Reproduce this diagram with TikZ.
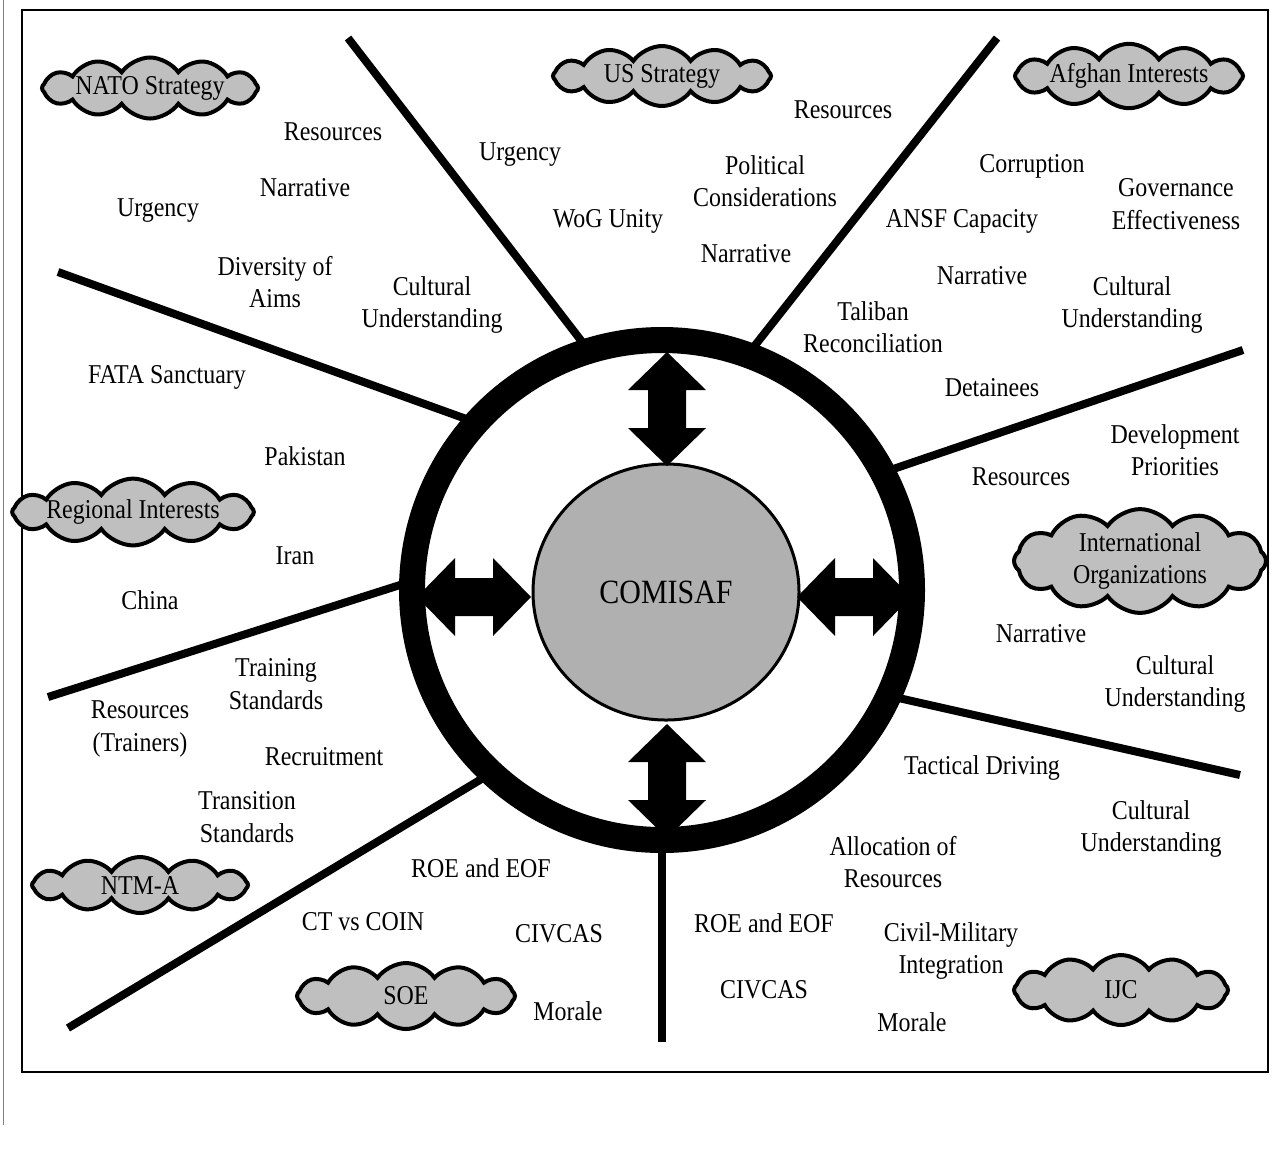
\documentclass[tikz,border=0pt]{standalone}
\usepackage{fontspec}
\setmainfont{Liberation Serif}[FakeStretch=0.88]
\usepackage{tikz}
\usetikzlibrary{shapes.geometric, shapes.symbols}

\tikzset{
  factor/.style={align=center, inner sep=0pt, font=\fontsize{13.6}{16.3}\selectfont},
  actor/.style={cloud, cloud puffs=12, cloud puff arc=110, cloud ignores aspect,
    draw=black, line width=2pt, fill=gray!50, inner sep=0pt, align=center,
    font=\fontsize{13.6}{16.3}\selectfont},
  spoke/.style={line width=4pt},
  dblarrow/.pic={\fill[black] (-57,0) -- (-19,39) -- (-19,19) -- (19,19) -- (19,39)
    -- (57,0) -- (19,-39) -- (19,-19) -- (-19,-19) -- (-19,-39) -- cycle;}
}

\begin{document}
\begin{tikzpicture}[x=0.5pt, y=-0.5pt]
    \useasboundingbox (0,0) rectangle (1273,1148);
    % Khung
    \draw[line width=1pt] (22,10) rectangle (1268,1072);
    \draw[gray, line width=0.5pt] (3,0) -- (3,1125);

    % Vong tron lon
    \node[circle, minimum size=250pt, inner sep=0pt] (ring) at (662,590) {};

    % Cac duong chia
    \coordinate (e1) at (348,38);
    \coordinate (e2) at (997,38);
    \coordinate (e3) at (58,272);
    \coordinate (e4) at (1243,350);
    \coordinate (e5) at (48,697);
    \coordinate (e6) at (1240,775);
    \coordinate (e7) at (68,1028);
    \coordinate (e8) at (662,1042);
    \foreach \a/\e in {107/e1, 70.5/e2, 138/e3, 28.3/e4, 178.9/e5, -25.9/e6, -133.8/e7, -90/e8}
        \draw[spoke] (ring.\a) -- (\e);

    \draw[line width=13pt] (ring.center) circle (125pt);

    % COMISAF
    \node[ellipse, draw, line width=1.5pt, fill=gray!62, minimum width=133pt, minimum height=128pt,
        font=\fontsize{17}{20}\selectfont] (comisaf) at (666,592) {COMISAF};

    % Mui ten hai chieu
    \pic[rotate=90] at (667,409) {dblarrow};
    \pic[rotate=90] at (667,781) {dblarrow};
    \pic at (474,597) {dblarrow};
    \pic at (854,597) {dblarrow};

    % Cac nhom
    \node[actor, minimum width=108pt, minimum height=26pt] (nato) at (150,88) {NATO Strategy};
    \node[actor, minimum width=109pt, minimum height=30pt] (us) at (662,76) {US Strategy};
    \node[actor, minimum width=114pt, minimum height=26pt] (afghan) at (1129,76) {Afghan Interests};
    \node[actor, minimum width=108pt, minimum height=31pt] (regional) at (133,512) {Regional Interests};
    \node[actor, minimum width=126pt, minimum height=34pt] (intorg) at (1140,561) {International\\Organizations};
    \node[actor, minimum width=108pt, minimum height=28pt] (ntma) at (140,885) {NTM-A};
    \node[actor, minimum width=109pt, minimum height=33pt] (soe) at (406,996) {SOE};
    \node[actor, minimum width=107pt, minimum height=35pt] (ijc) at (1121,990) {IJC};

    % NATO
    \node[factor] (natoRes) at (333,132) {Resources};
    \node[factor] (natoNarr) at (305,188) {Narrative};
    \node[factor] (natoUrg) at (158,211) {Urgency};
    \node[factor] (natoAims) at (275,282) {Diversity of\\Aims};
    \node[factor] (natoCult) at (432,305) {Cultural\\Understanding};

    % US
    \node[factor] (usUrg) at (520,155) {Urgency};
    \node[factor] (usWoG) at (608,221) {WoG Unity};
    \node[factor] (usRes) at (843,110) {Resources};
    \node[factor] (usPol) at (765,181) {Political\\Considerations};
    \node[factor] (usNarr) at (746,254) {Narrative};

    % Afghan
    \node[factor] (afCorr) at (1032,166) {Corruption};
    \node[factor] (afGov) at (1176,204) {Governance\\Effectiveness};
    \node[factor] (afANSF) at (962,221) {ANSF Capacity};
    \node[factor] (afNarr) at (982,276) {Narrative};
    \node[factor] (afCult) at (1132,305) {Cultural\\Understanding};
    \node[factor] (afTal) at (873,327) {Taliban\\Reconciliation};
    \node[factor] (afDet) at (992,388) {Detainees};

    % International Organizations
    \node[factor] (ioDev) at (1175,450) {Development\\Priorities};
    \node[factor] (ioRes) at (1021,477) {Resources};
    \node[factor] (ioNarr) at (1041,634) {Narrative};
    \node[factor] (ioCult) at (1175,684) {Cultural\\Understanding};

    % Regional
    \node[factor] (rgFATA) at (167,377) {FATA Sanctuary};
    \node[factor] (rgPak) at (305,456) {Pakistan};
    \node[factor] (rgIran) at (295,556) {Iran};
    \node[factor] (rgChina) at (150,600) {China};

    % NTM-A
    \node[factor] (ntTrain) at (276,684) {Training\\Standards};
    \node[factor] (ntRes) at (140,729) {Resources\\(Trainers)};
    \node[factor] (ntRecr) at (324,757) {Recruitment};
    \node[factor] (ntTrans) at (247,817) {Transition\\Standards};

    % SOE
    \node[factor] (soeROE) at (481,868) {ROE and EOF};
    \node[factor] (soeCT) at (363,922) {CT vs COIN};
    \node[factor] (soeCiv) at (559,934) {CIVCAS};
    \node[factor] (soeMor) at (568,1011) {Morale};

    % IJC
    \node[factor] (ijTac) at (982,768) {Tactical Driving};
    \node[factor] (ijCult) at (1151,829) {Cultural\\Understanding};
    \node[factor] (ijAlloc) at (893,862) {Allocation of\\Resources};
    \node[factor] (ijROE) at (764,923) {ROE and EOF};
    \node[factor] (ijCM) at (951,951) {Civil-Military\\Integration};
    \node[factor] (ijCiv) at (764,990) {CIVCAS};
    \node[factor] (ijMor) at (912,1022) {Morale};
\end{tikzpicture}
\end{document}
